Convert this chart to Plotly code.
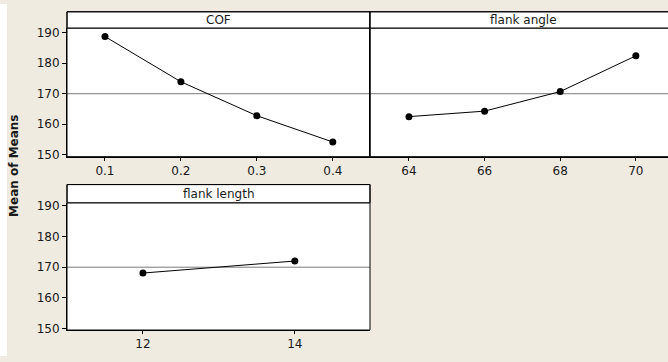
import plotly.graph_objects as go

W, H = 668, 362

# ---- data ----
cof_levels = [0.1, 0.2, 0.3, 0.4]
cof_means = [188.7, 173.9, 162.8, 154.2]
angle_levels = [64, 66, 68, 70]
angle_means = [162.5, 164.3, 170.7, 182.4]
length_levels = [12, 14]
length_means = [168.1, 172.0]
grand_mean = 170
y_ticks = [150, 160, 170, 180, 190]
panel_titles = ["COF", "flank angle", "flank length"]

BG = "#EFEBE0"
FONT = "DejaVu Sans"
TXT = "#1a1a1a"

def px_x(p):
    return p / W

def px_y(p):
    return 1 - p / H

fig = go.Figure()

fig.add_trace(go.Scatter(x=cof_levels, y=cof_means, mode="lines+markers",
                         line=dict(color="black", width=1),
                         marker=dict(color="black", size=7),
                         xaxis="x", yaxis="y", showlegend=False))
fig.add_trace(go.Scatter(x=angle_levels, y=angle_means, mode="lines+markers",
                         line=dict(color="black", width=1),
                         marker=dict(color="black", size=7),
                         xaxis="x2", yaxis="y2", showlegend=False))
fig.add_trace(go.Scatter(x=length_levels, y=length_means, mode="lines+markers",
                         line=dict(color="black", width=1),
                         marker=dict(color="black", size=7),
                         xaxis="x3", yaxis="y3", showlegend=False))

# panel pixel geometry: (left, right, header_top, header_bottom, axis_bottom)
panels = [
    (67, 370, 8, 25, 157),
    (370, 680, 8, 25, 157),
    (67, 370, 185.7, 204.3, 335.3),
]

tick_font = dict(family=FONT, size=12, color=TXT)

common_x = dict(showgrid=False, zeroline=False, showline=True, linecolor="black",
                linewidth=1, ticks="outside", ticklen=3, tickcolor="black",
                tickfont=tick_font, fixedrange=True)
common_y = dict(showgrid=False, zeroline=False, showline=True, linecolor="black",
                linewidth=1, fixedrange=True, tickvals=y_ticks, tickfont=tick_font)

layout = dict(
    width=W, height=H,
    margin=dict(l=0, r=0, t=0, b=0),
    paper_bgcolor=BG, plot_bgcolor="white",
    showlegend=False,
)

# top-left COF
layout["xaxis"] = dict(common_x, domain=[px_x(67), px_x(370)], range=[0.05, 0.449],
                       tickvals=cof_levels, anchor="y")
layout["yaxis"] = dict(common_y, domain=[px_y(157), px_y(25)], range=[149.4, 191.4],
                       ticks="outside", ticklen=4, tickcolor="black", anchor="x")
# top-right flank angle
layout["xaxis2"] = dict(common_x, domain=[px_x(370), 1.0], range=[62.97, 70.85],
                        tickvals=angle_levels, anchor="y2")
layout["yaxis2"] = dict(common_y, domain=[px_y(157), px_y(25)], range=[149.4, 191.4],
                        showticklabels=False, ticks="", anchor="x2")
# bottom-left flank length
layout["xaxis3"] = dict(common_x, domain=[px_x(67), px_x(370)], range=[11.0, 14.99],
                        tickvals=length_levels, anchor="y3")
layout["yaxis3"] = dict(common_y, domain=[px_y(335.3), px_y(204.3)], range=[149.6, 190.95],
                        ticks="outside", ticklen=4, tickcolor="black", anchor="x3")

fig.update_layout(**layout)

shapes = []
annotations = []
axis_refs = [("x", "y"), ("x2", "y2"), ("x3", "y3")]
for (l, r, ht, hb, ab), title, (xr, yr) in zip(panels, panel_titles, axis_refs):
    # reference line at grand mean
    shapes.append(dict(type="line", xref=f"{xr} domain", yref=yr, x0=0, x1=1,
                       y0=grand_mean, y1=grand_mean,
                       line=dict(color="#7a7a7a", width=1), layer="below"))
    # header strip
    shapes.append(dict(type="rect", xref="paper", yref="paper",
                       x0=px_x(l), x1=px_x(r), y0=px_y(hb), y1=px_y(ht),
                       fillcolor="white", line=dict(color="black", width=1), layer="above"))
    # header bottom line (darker/thicker)
    shapes.append(dict(type="line", xref="paper", yref="paper",
                       x0=px_x(l), x1=px_x(r), y0=px_y(hb), y1=px_y(hb),
                       line=dict(color="#333333", width=1.5), layer="above"))
    # panel border
    shapes.append(dict(type="rect", xref="paper", yref="paper",
                       x0=px_x(l), x1=px_x(r), y0=px_y(ab), y1=px_y(ht),
                       fillcolor="rgba(0,0,0,0)", line=dict(color="black", width=1),
                       layer="above"))
    cx = (l + r) / 2 if r < 600 else (370 + 676) / 2
    annotations.append(dict(text=title, xref="paper", yref="paper",
                            x=px_x(cx), y=px_y((ht + hb) / 2),
                            xanchor="center", yanchor="middle", showarrow=False,
                            font=dict(family=FONT, size=12, color=TXT)))

# white strip at left edge of image
shapes.append(dict(type="rect", xref="paper", yref="paper", x0=0, x1=px_x(7),
                   y0=0, y1=1, fillcolor="white", line=dict(width=0), layer="above"))

annotations.append(dict(text="<b>Mean of Means</b>", xref="paper", yref="paper",
                        x=px_x(14), y=px_y(166.5), textangle=-90,
                        xanchor="center", yanchor="middle", showarrow=False,
                        font=dict(family=FONT, size=12, color=TXT)))

fig.update_layout(shapes=shapes, annotations=annotations)

fig.write_html("out.html",
               config={"displayModeBar": False},
               post_script="document.body.style.margin='0';"
                           "document.documentElement.style.overflow='hidden';"
                           "document.body.style.overflow='hidden';")
